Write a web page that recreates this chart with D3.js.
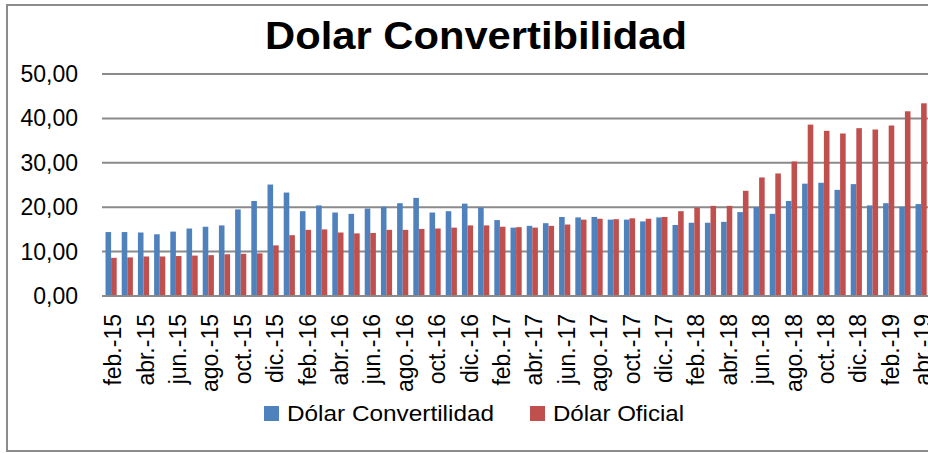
<!DOCTYPE html>
<meta charset="utf-8">
<head>
</head>
<body style="margin:0;background:#fff">
<style>
text { font-family: "Liberation Sans", Arial, sans-serif; fill: #000; }
.grid line { stroke: #8a8a8a; stroke-width: 2px; }
</style>
<svg width="928" height="453"></svg>
<script src="https://cdn.jsdelivr.net/npm/d3@7"></script>
<script>
// months shown on the x axis (one bar pair per month)
var meses = ["feb.-15","mar.-15","abr.-15","may.-15","jun.-15","jul.-15","ago.-15","sep.-15","oct.-15","nov.-15","dic.-15",
  "ene.-16","feb.-16","mar.-16","abr.-16","may.-16","jun.-16","jul.-16","ago.-16","sep.-16","oct.-16","nov.-16","dic.-16",
  "ene.-17","feb.-17","mar.-17","abr.-17","may.-17","jun.-17","jul.-17","ago.-17","sep.-17","oct.-17","nov.-17","dic.-17",
  "ene.-18","feb.-18","mar.-18","abr.-18","may.-18","jun.-18","jul.-18","ago.-18","sep.-18","oct.-18","nov.-18","dic.-18",
  "ene.-19","feb.-19","mar.-19","abr.-19"];

var convertibilidad = [14.4,14.4,14.3,13.9,14.5,15.2,15.6,15.9,19.5,21.4,25.1,
  23.3,19.1,20.4,18.8,18.5,19.7,20.1,20.9,22.1,18.8,19.1,20.8,
  19.9,17.1,15.4,15.8,16.4,17.8,17.7,17.8,17.2,17.2,16.8,17.7,
  16.0,16.5,16.5,16.7,18.9,20.0,18.5,21.4,25.3,25.5,23.9,25.2,
  20.4,20.9,20.1,20.7];

var oficial = [8.6,8.7,8.9,8.9,9.0,9.1,9.2,9.4,9.5,9.6,11.4,
  13.7,14.9,15.0,14.3,14.1,14.2,14.9,14.9,15.1,15.2,15.4,15.9,
  15.9,15.6,15.5,15.4,15.8,16.1,17.2,17.4,17.3,17.5,17.4,17.8,
  19.1,19.9,20.3,20.3,23.7,26.7,27.6,30.3,38.6,37.2,36.6,37.8,
  37.5,38.4,41.6,43.4];

var series = ["Dólar Convertilidad", "Dólar Oficial"];
var colores = ["#4f81bd", "#c0504d"];
var yTicks = [0, 10, 20, 30, 40, 50];

var svg = d3.select("svg");

// outer chart frame (right side is cut off in the picture)
svg.append("rect")
  .attr("x", 7).attr("y", 5)
  .attr("width", 940).attr("height", 446)
  .attr("fill", "none")
  .attr("stroke", "#8c8c8c")
  .attr("stroke-width", 2);

var x = d3.scaleBand().domain(meses).range([103, 929.2]).paddingInner(0.31).paddingOuter(0.155);
var xs = d3.scaleBand().domain([0, 1]).range([0, x.bandwidth()]);
var y = d3.scaleLinear().domain([0, 50]).range([296, 74]);

// gridlines
svg.append("g").attr("class", "grid")
  .selectAll("line").data(yTicks).enter().append("line")
  .attr("x1", 102).attr("x2", 930)
  .attr("y1", function(d) { return y(d); })
  .attr("y2", function(d) { return y(d); });

// y labels
svg.append("g").selectAll("text").data(yTicks).enter().append("text")
  .attr("x", 78)
  .attr("y", function(d) { return y(d); })
  .attr("dy", "0.35em")
  .attr("text-anchor", "end")
  .style("font-size", "23px")
  .text(function(d) { return d3.format(".2f")(d).replace(".", ","); });

// bars
var datos = meses.map(function(m, i) { return {mes: m, v: [convertibilidad[i], oficial[i]]}; });
var grupo = svg.append("g").selectAll("g").data(datos).enter().append("g")
  .attr("transform", function(d) { return "translate(" + x(d.mes) + ",0)"; });
grupo.selectAll("rect").data(function(d) { return d.v; }).enter().append("rect")
  .attr("x", function(d, j) { return xs(j); })
  .attr("width", xs.bandwidth())
  .attr("y", function(d) { return y(d); })
  .attr("height", function(d) { return y(0) - y(d); })
  .attr("fill", function(d, j) { return colores[j]; });

// redraw baseline on top
svg.append("line").attr("x1", 102).attr("x2", 930)
  .attr("y1", y(0)).attr("y2", y(0))
  .attr("stroke", "#8a8a8a").attr("stroke-width", 2);

// x labels, every second month, rotated
svg.append("g").selectAll("text")
  .data(meses.filter(function(m, i) { return i % 2 == 0; }))
  .enter().append("text")
  .attr("transform", function(d) {
    return "translate(" + (x(d) + x.bandwidth() / 2 + 10) + ",314) rotate(-90)";
  })
  .attr("text-anchor", "end")
  .style("font-size", "23px")
  .text(function(d) { return d; });

// title
svg.append("text")
  .attr("x", 265).attr("y", 49)
  .attr("textLength", 422)
  .attr("lengthAdjust", "spacingAndGlyphs")
  .style("font-size", "39px")
  .style("font-weight", "bold")
  .text("Dolar Convertibilidad");

// legend
var legX = [264, 530], legW = [207, 131];
var leg = svg.append("g").selectAll("g").data(series).enter().append("g");
leg.append("rect")
  .attr("x", function(d, i) { return legX[i]; })
  .attr("y", 406).attr("width", 15).attr("height", 15)
  .attr("fill", function(d, i) { return colores[i]; });
leg.append("text")
  .attr("x", function(d, i) { return legX[i] + 23; })
  .attr("y", 421)
  .attr("textLength", function(d, i) { return legW[i]; })
  .attr("lengthAdjust", "spacingAndGlyphs")
  .style("font-size", "22px")
  .text(function(d) { return d; });
</script>
</body>
